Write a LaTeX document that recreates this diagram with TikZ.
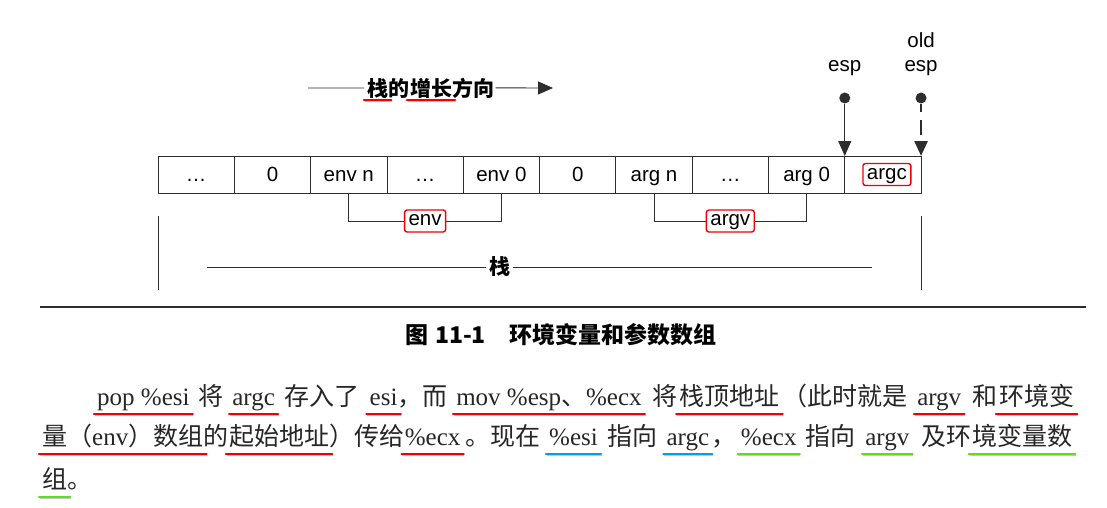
\documentclass[tikz,border=0pt]{standalone}
\usepackage{fontspec}
\setmainfont{Liberation Serif}
\setsansfont{Liberation Sans}
\newfontfamily\cjk{Noto Sans CJK SC}
\usetikzlibrary{arrows.meta,positioning}

\definecolor{ink}{RGB}{45,45,45}
\definecolor{penred}{RGB}{240,0,0}
\definecolor{penblue}{RGB}{0,160,233}
\definecolor{pengreen}{RGB}{95,222,20}

\tikzset{
  cell/.style={draw=ink, line width=0.9pt, minimum width=76.3pt, minimum height=37pt,
    inner sep=0pt, outer sep=0pt, text height=14pt, text depth=1pt,
    font=\sffamily\fontsize{20.5}{24}\selectfont},
  tag/.style={draw=penred, line width=1.4pt, rounded corners=2.5pt, fill=white,
    inner xsep=4pt, inner ysep=2.5pt, text height=13pt, text depth=4pt,
    font=\sffamily\fontsize{20.5}{24}\selectfont},
  lbl/.style={font=\sffamily\fontsize{20.5}{24}\selectfont, align=center, inner sep=0pt},
  dot/.style={circle, fill=ink, minimum size=11pt, inner sep=0pt},
  ptr/.style={draw=ink, line width=0.9pt, -{Triangle[length=15pt,width=13pt]}},
  bar/.style={draw=ink, line width=0.9pt},
  hei/.style={inner sep=0pt, font=\cjk\bfseries\fontsize{21}{24}\selectfont},
  word/.style={inner sep=0pt, text=black!85, font=\fontsize{25}{30}\selectfont},
  ul/.style={line width=2.6pt, line cap=round, shorten <=-3pt, shorten >=-3pt,
    preaction={draw=black!22, transform canvas={shift={(0.7pt,-1.3pt)}}}},
}

\begin{document}
\begin{tikzpicture}[x=1pt, y=-1pt]
  \useasboundingbox (0,0) rectangle (1107,508);

  % the stack cells
  \node[cell] (dotsA) at (196.2,174.5) {\ldots};
  \node[cell] (zeroA) [right=0pt of dotsA] {0};
  \node[cell] (envn)  [right=0pt of zeroA] {env n};
  \node[cell] (dotsB) [right=0pt of envn]  {\ldots};
  \node[cell] (env0)  [right=0pt of dotsB] {env 0};
  \node[cell] (zeroB) [right=0pt of env0]  {0};
  \node[cell] (argn)  [right=0pt of zeroB] {arg n};
  \node[cell] (dotsC) [right=0pt of argn]  {\ldots};
  \node[cell] (arg0)  [right=0pt of dotsC] {arg 0};
  \node[cell] (argc)  [right=0pt of arg0]  {};
  \node[tag]  (argctag) at ([shift={(4,0)}]argc.center) {argc};

  \draw[bar] (envn.south) -- ++(0,28) -| node[tag, pos=0.25] (envtag) {env} (env0.south);
  \draw[bar] (argn.south) -- ++(0,28) -| node[tag, pos=0.25] (argvtag) {argv} (arg0.south);

  % whole stack
  \coordinate (stackL) at ([shift={(0,23)}]dotsA.south west);
  \coordinate (stackR) at ([shift={(0,23)}]argc.south east);
  \coordinate (stackS) at (207,267);
  \coordinate (stackE) at (872,267);
  \draw[bar] (stackL) -- ++(0,74);
  \draw[bar] (stackR) -- ++(0,74);
  \draw[bar] (stackS) -- node[hei, pos=0.44, fill=white, inner xsep=3pt] (stack) {栈} (stackE);

  % growth direction
  \node[hei, anchor=base west] (g1) at (367,96) {栈};
  \node[hei] (g2) [base right=0pt of g1] {的};
  \node[hei] (g3) [base right=0pt of g2] {增长};
  \node[hei] (g4) [base right=0pt of g3] {方向};
  \coordinate (growS) at (308,88);
  \coordinate (growE) at (553,88);
  \draw[bar] (growS) -- ([shift={(-3,0)}]g1.west);
  \draw[ptr] ([shift={(1,0)}]g4.east) -- (growE);

  % stack pointers
  \node[dot] (espdot) at ([shift={(0,-58)}]argc.north west) {};
  \node[lbl] (esp) [above=16pt of espdot] {esp};
  \draw[ptr] (espdot) -- (argc.north west);
  \node[dot] (olddot) at ([shift={(0,-58)}]argc.north east) {};
  \node[lbl] (oldesp) [above=16pt of olddot] {old\\esp};
  \draw[ptr, line width=2.6pt, dash pattern=on 8.5pt off 8pt on 15pt off 10pt] (olddot) -- (argc.north east);

  % caption
  \draw[draw=ink, line width=1.6pt] (40,307) -- (1086,307);
  \node[inner sep=0pt, anchor=base, font=\cjk\bfseries\fontsize{23}{26}\selectfont] (caption)
    at (561,343) {图\hspace{7pt}11-1\hspace{24pt}环境变量和参数数组};

  % paragraph, line 1
  \node[word, anchor=base west] (popesi) at (97,405) {pop \%esi};
  \node[word] (jiangA) [base right=8.5pt of popesi] {\cjk 将};
  \node[word] (argcA)  [base right=8.5pt of jiangA] {argc};
  \node[word] (cunru)  [base right=9.5pt of argcA]  {\cjk 存入了};
  \node[word] (esiA)   [base right=9.5pt of cunru]  {esi};
  \node[word] (erqie)  [base right=0pt of esiA]     {\cjk ，而};
  \node[word] (movesp) [base right=8pt of erqie]    {mov \%esp{\cjk 、}\%ecx};
  \node[word] (jiangB) [base right=10.5pt of movesp] {\cjk 将};
  \node[word] (zhanding) [base right=1.5pt of jiangB] {\cjk 栈顶地址};
  \node[word] (cishi)  [base right=3pt of zhanding] {\cjk （此时就是};
  \node[word] (argvA)  [base right=9pt of cishi]    {argv};
  \node[word] (he)     [base right=10.5pt of argvA] {\cjk 和};
  \node[word] (huanA)  [base right=1.5pt of he]     {\cjk 环境变};

  % paragraph, line 2
  \node[word, anchor=base west] (liang) at (42,445) {{\cjk 量（}env{\cjk ）数组}};
  \node[word] (de)     [base right=0pt of liang]   {\cjk 的};
  \node[word] (qishi)  [base right=0pt of de]      {\cjk 起始地址};
  \node[word] (chuan)  [base right=0pt of qishi]   {\cjk ）传给};
  \node[word] (ecxA)   [base right=0pt of chuan]   {\%ecx};
  \node[word] (xianzai) [base right=5pt of ecxA]   {\cjk 。现在};
  \node[word] (esiB)   [base right=8pt of xianzai] {\%esi};
  \node[word] (zhiA)   [base right=9pt of esiB]    {\cjk 指向};
  \node[word] (argcB)  [base right=9pt of zhiA]    {argc};
  \node[word] (douhao) [base right=2pt of argcB]   {\cjk ，};
  \node[word] (ecxB)   [base right=4pt of douhao]  {\%ecx};
  \node[word] (zhiB)   [base right=9pt of ecxB]    {\cjk 指向};
  \node[word] (argvB)  [base right=9pt of zhiB]    {argv};
  \node[word] (jihuan) [base right=12pt of argvB]  {\cjk 及环};
  \node[word] (jingbian) [base right=0pt of jihuan] {\cjk 境变量数};

  % paragraph, line 3
  \node[word, anchor=base west] (zu) at (42,488) {\cjk 组};
  \node[word] (juhao) [base right=0pt of zu] {\cjk 。};

  % pen marks
  \foreach \w in {g1,g3}
    \draw[ul, draw=penred, line width=2.2pt] ([shift={(0,4)}]\w.base west) -- ([shift={(0,4)}]\w.base east);
  \foreach \w/\c in {popesi/penred, argcA/penred, esiA/penred, movesp/penred,
                     zhanding/penred, argvA/penred, huanA/penred, liang/penred,
                     qishi/penred, ecxA/penred, esiB/penblue, argcB/penblue,
                     ecxB/pengreen, argvB/pengreen, jingbian/pengreen, zu/pengreen}
    \draw[ul, draw=\c] ([shift={(0,9)}]\w.base west) -- ([shift={(0,9)}]\w.base east);
\end{tikzpicture}
\end{document}
